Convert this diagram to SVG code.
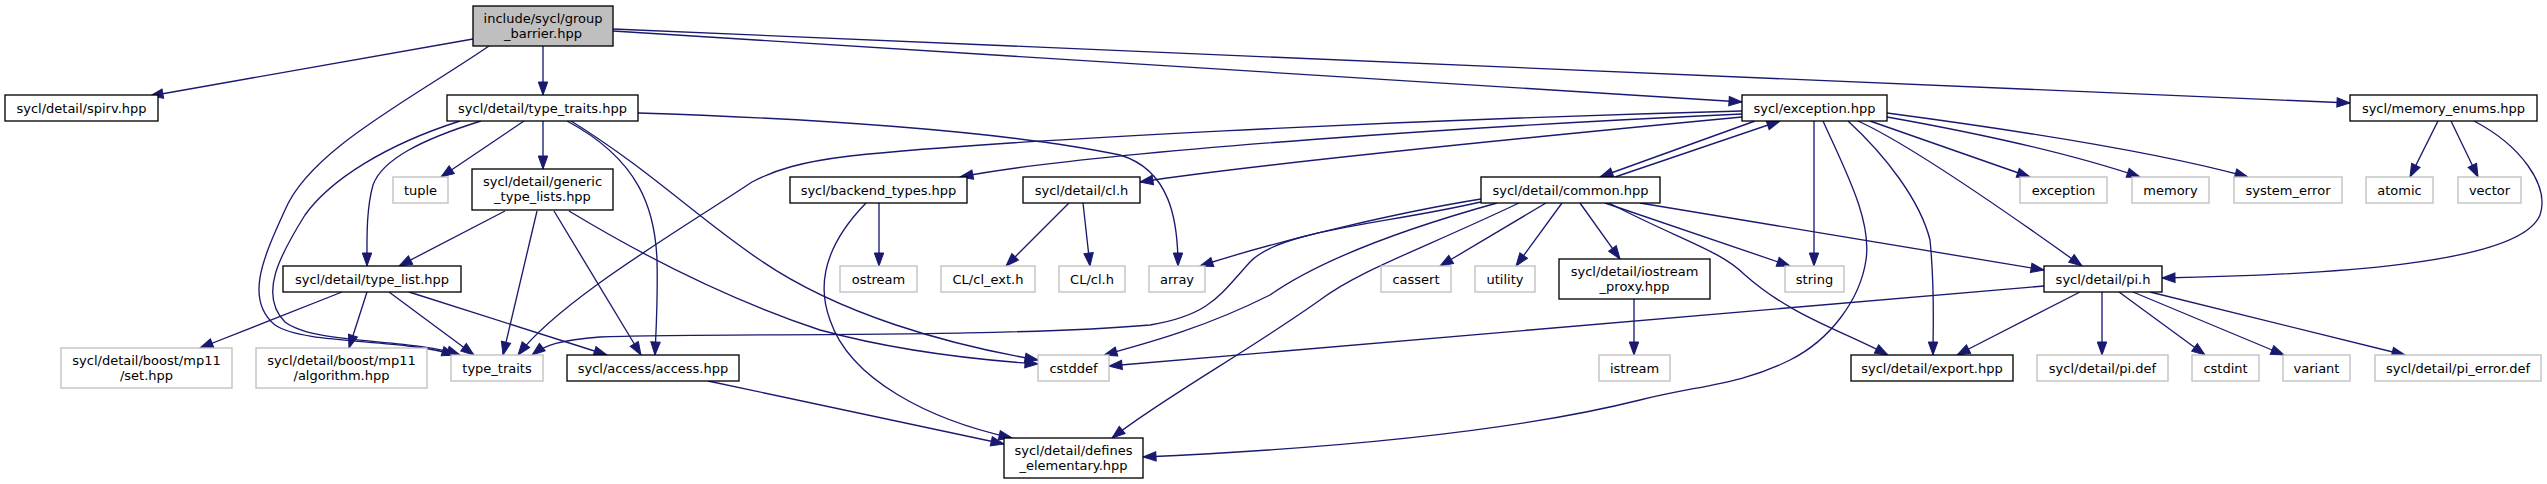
<svg xmlns="http://www.w3.org/2000/svg" width="2547" height="484" viewBox="0 0 2547 484">
<style>
.n rect{fill:#fff;stroke:#000;stroke-width:1.33}
.n.s rect{stroke:#bfbfbf}
.n.r rect{fill:#bfbfbf}
text{font-family:"DejaVu Sans",sans-serif;font-size:13px;text-anchor:middle;fill:#000}
#edges path{fill:none;stroke:#191970;stroke-width:1.33;marker-end:url(#a)}
</style>
<defs>
<marker id="a" markerUnits="userSpaceOnUse" markerWidth="16" markerHeight="12" refX="13" refY="4.7" orient="auto" overflow="visible">
<path d="M0,0 L13,4.7 L0,9.4 z" fill="#191970" stroke="#191970" stroke-width="1"/>
</marker>
</defs>
<rect width="2547" height="484" fill="#fff"/>
<g id="edges">
<path d="M473,39 L150,96"/>
<path d="M543,46 L543,95"/>
<path d="M489,46 C410,100 310,150 285,210 C262,260 245,300 275,325 C305,345 400,338 455,355"/>
<path d="M613,31 L1742,102"/>
<path d="M613,29 L2350,103"/>
<path d="M524,121 L441,177"/>
<path d="M543,121 L543,169"/>
<path d="M481,121 C420,140 382,160 373,185 C366,210 367,240 367,266"/>
<path d="M460,121 C385,145 330,180 305,215 C280,255 258,295 285,322 C315,345 410,338 460,355"/>
<path d="M638,113 C800,118 1000,130 1120,155 C1170,170 1178,220 1178,266"/>
<path d="M567,121 C640,160 655,210 657,260 C658,300 656,330 655,355"/>
<path d="M571,121 C650,170 700,220 760,260 C840,315 950,345 1038,360"/>
<path d="M505,211 L399,266"/>
<path d="M537,211 L503,355"/>
<path d="M554,211 L641,355"/>
<path d="M569,211 C650,260 730,300 820,330 C900,352 980,360 1038,364"/>
<path d="M342,292 L200,348"/>
<path d="M367,292 L349,348"/>
<path d="M389,292 L474,355"/>
<path d="M409,292 L607,355"/>
<path d="M708,381 L1004,444"/>
<path d="M1742,114 C1500,125 1100,150 960,177"/>
<path d="M1742,117 C1500,140 1250,165 1140,182"/>
<path d="M1755,121 L1600,177"/>
<path d="M1615,177 L1780,121"/>
<path d="M1742,111 C1400,120 1000,140 850,156 C800,162 775,170 752,182 C680,230 560,300 518,355"/>
<path d="M1814,121 L1814,266"/>
<path d="M1823,121 C1845,170 1872,220 1866,260 C1860,300 1830,340 1790,360 C1740,385 1700,385 1640,400 C1500,435 1300,450 1143,457"/>
<path d="M1848,121 C1885,155 1920,200 1930,240 C1935,290 1933,320 1933,355"/>
<path d="M1858,121 C1900,140 1990,200 2082,266"/>
<path d="M1870,121 L2030,177"/>
<path d="M1887,117 C1960,130 2060,150 2140,177"/>
<path d="M1887,113 C2000,128 2150,150 2248,177"/>
<path d="M879,203 L879,266"/>
<path d="M866,203 C830,240 815,280 830,320 C850,380 930,420 1012,438"/>
<path d="M1069,203 L1006,266"/>
<path d="M1083,203 L1090,266"/>
<path d="M1481,199 C1400,212 1280,240 1200,266"/>
<path d="M1546,203 L1440,266"/>
<path d="M1562,203 L1516,266"/>
<path d="M1580,203 L1620,259"/>
<path d="M1605,203 L1790,266"/>
<path d="M1640,203 L2044,270"/>
<path d="M1609,203 C1680,240 1720,250 1745,275 C1790,315 1840,330 1888,355"/>
<path d="M1481,202 C1380,225 1280,230 1250,262 C1220,295 1210,315 1150,325 C1000,338 700,333 600,337 C560,340 545,345 532,355"/>
<path d="M1497,203 C1400,230 1320,260 1270,295 C1200,330 1140,345 1104,355"/>
<path d="M1519,203 C1420,250 1360,270 1320,300 C1250,350 1160,400 1112,438"/>
<path d="M1634,299 L1634,355"/>
<path d="M2044,286 L1109,366"/>
<path d="M2080,292 L1957,355"/>
<path d="M2102,292 L2102,355"/>
<path d="M2119,292 L2205,355"/>
<path d="M2133,292 L2284,355"/>
<path d="M2150,292 L2405,355"/>
<path d="M2438,121 L2410,177"/>
<path d="M2451,121 L2478,177"/>
<path d="M2474,121 C2520,145 2550,185 2540,215 C2520,265 2320,275 2162,278"/>
</g>
<g id="n_group_barrier" class="n r"><rect x="473" y="6" width="140" height="40"/><text x="543" y="22.5">include/sycl/group</text><text x="543" y="37.5">_barrier.hpp</text></g>
<g id="n_spirv" class="n"><rect x="5" y="95" width="153" height="26"/><text x="81.5" y="112.5">sycl/detail/spirv.hpp</text></g>
<g id="n_type_traits" class="n"><rect x="447" y="95" width="191" height="26"/><text x="542.5" y="112.5">sycl/detail/type_traits.hpp</text></g>
<g id="n_exception_hpp" class="n"><rect x="1742" y="95" width="145" height="26"/><text x="1814.5" y="112.5">sycl/exception.hpp</text></g>
<g id="n_memory_enums" class="n"><rect x="2350" y="95" width="187" height="26"/><text x="2443.5" y="112.5">sycl/memory_enums.hpp</text></g>
<g id="n_tuple" class="n s"><rect x="393" y="177" width="55" height="26"/><text x="420.5" y="194.5">tuple</text></g>
<g id="n_generic_type_lists" class="n"><rect x="472" y="169" width="141" height="41"/><text x="542.5" y="186">sycl/detail/generic</text><text x="542.5" y="201">_type_lists.hpp</text></g>
<g id="n_backend_types" class="n"><rect x="790" y="177" width="177" height="26"/><text x="878.5" y="194.5">sycl/backend_types.hpp</text></g>
<g id="n_cl" class="n"><rect x="1023" y="177" width="117" height="26"/><text x="1081.5" y="194.5">sycl/detail/cl.h</text></g>
<g id="n_common" class="n"><rect x="1481" y="177" width="179" height="26"/><text x="1570.5" y="194.5">sycl/detail/common.hpp</text></g>
<g id="n_std_exception" class="n s"><rect x="2020" y="177" width="87" height="26"/><text x="2063.5" y="194.5">exception</text></g>
<g id="n_memory" class="n s"><rect x="2132" y="177" width="77" height="26"/><text x="2170.5" y="194.5">memory</text></g>
<g id="n_system_error" class="n s"><rect x="2234" y="177" width="108" height="26"/><text x="2288" y="194.5">system_error</text></g>
<g id="n_atomic" class="n s"><rect x="2366" y="177" width="67" height="26"/><text x="2399.5" y="194.5">atomic</text></g>
<g id="n_vector" class="n s"><rect x="2458" y="177" width="63" height="26"/><text x="2489.5" y="194.5">vector</text></g>
<g id="n_type_list" class="n"><rect x="283" y="266" width="178" height="26"/><text x="372" y="283.5">sycl/detail/type_list.hpp</text></g>
<g id="n_ostream" class="n s"><rect x="840" y="266" width="77" height="26"/><text x="878.5" y="283.5">ostream</text></g>
<g id="n_cl_ext" class="n s"><rect x="941" y="266" width="94" height="26"/><text x="988" y="283.5">CL/cl_ext.h</text></g>
<g id="n_cl_h" class="n s"><rect x="1059" y="266" width="66" height="26"/><text x="1092" y="283.5">CL/cl.h</text></g>
<g id="n_array" class="n s"><rect x="1149" y="266" width="56" height="26"/><text x="1177" y="283.5">array</text></g>
<g id="n_cassert" class="n s"><rect x="1381" y="266" width="70" height="26"/><text x="1416" y="283.5">cassert</text></g>
<g id="n_utility" class="n s"><rect x="1475" y="266" width="60" height="26"/><text x="1505" y="283.5">utility</text></g>
<g id="n_iostream_proxy" class="n"><rect x="1559" y="259" width="151" height="40"/><text x="1634.5" y="275.5">sycl/detail/iostream</text><text x="1634.5" y="290.5">_proxy.hpp</text></g>
<g id="n_string" class="n s"><rect x="1785" y="266" width="59" height="26"/><text x="1814.5" y="283.5">string</text></g>
<g id="n_pi_h" class="n"><rect x="2044" y="266" width="118" height="26"/><text x="2103" y="283.5">sycl/detail/pi.h</text></g>
<g id="n_mp11_set" class="n s"><rect x="61" y="348" width="171" height="40"/><text x="146.5" y="364.5">sycl/detail/boost/mp11</text><text x="146.5" y="379.5">/set.hpp</text></g>
<g id="n_mp11_algorithm" class="n s"><rect x="256" y="348" width="171" height="40"/><text x="341.5" y="364.5">sycl/detail/boost/mp11</text><text x="341.5" y="379.5">/algorithm.hpp</text></g>
<g id="n_std_type_traits" class="n s"><rect x="451" y="355" width="92" height="26"/><text x="497" y="372.5">type_traits</text></g>
<g id="n_access" class="n"><rect x="567" y="355" width="172" height="26"/><text x="653" y="372.5">sycl/access/access.hpp</text></g>
<g id="n_cstddef" class="n s"><rect x="1038" y="355" width="71" height="26"/><text x="1073.5" y="372.5">cstddef</text></g>
<g id="n_istream" class="n s"><rect x="1599" y="355" width="71" height="26"/><text x="1634.5" y="372.5">istream</text></g>
<g id="n_export" class="n"><rect x="1851" y="355" width="162" height="26"/><text x="1932" y="372.5">sycl/detail/export.hpp</text></g>
<g id="n_pi_def" class="n s"><rect x="2037" y="355" width="131" height="26"/><text x="2102.5" y="372.5">sycl/detail/pi.def</text></g>
<g id="n_cstdint" class="n s"><rect x="2192" y="355" width="67" height="26"/><text x="2225.5" y="372.5">cstdint</text></g>
<g id="n_variant" class="n s"><rect x="2283" y="355" width="67" height="26"/><text x="2316.5" y="372.5">variant</text></g>
<g id="n_pi_error" class="n s"><rect x="2375" y="355" width="166" height="26"/><text x="2458" y="372.5">sycl/detail/pi_error.def</text></g>
<g id="n_defines_elementary" class="n"><rect x="1004" y="438" width="139" height="40"/><text x="1073.5" y="454.5">sycl/detail/defines</text><text x="1073.5" y="469.5">_elementary.hpp</text></g>
</svg>
